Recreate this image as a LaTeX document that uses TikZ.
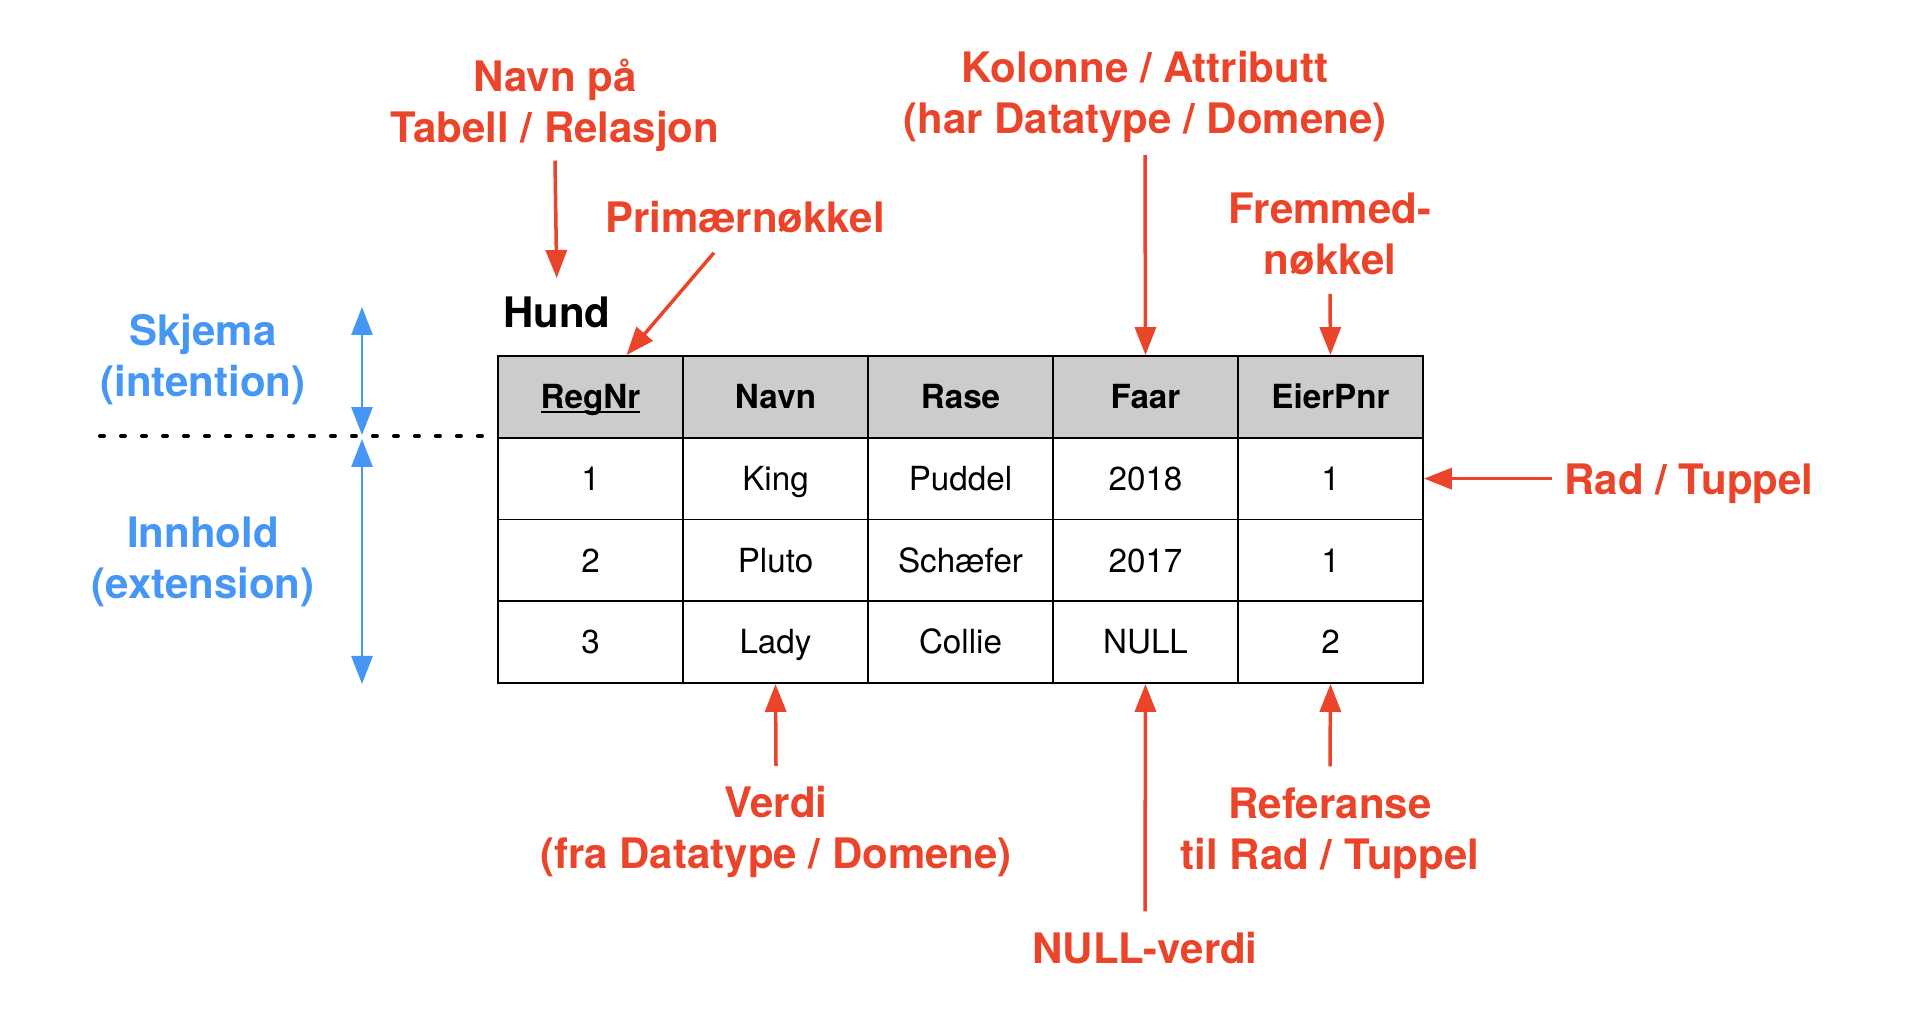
\documentclass[tikz,border=0pt]{standalone}
\usepackage{fontspec}
\setmainfont{TeX Gyre Heros}
\usetikzlibrary{arrows.meta,calc}
\definecolor{rod}{RGB}{234,68,42}
\definecolor{bla}{RGB}{70,150,246}
\definecolor{hodegraa}{RGB}{204,204,204}
\newcommand{\understrek}[1]{\setbox0\hbox{#1}\rlap{\rule[-0.14em]{\wd0}{0.06em}}\box0}

\begin{document}
\begin{tikzpicture}[x=0.02cm, y=-0.02cm, >={Triangle[length=0.56cm, width=0.42cm]},
    merk/.style={text=rod, font=\fontsize{23.9}{29}\selectfont\bfseries, align=center, inner sep=0pt},
    blamerk/.style={merk, text=bla},
    pil/.style={->, rod, line width=2pt},
    blapil/.style={<->, bla, line width=1.7pt},
    celle/.style={draw, line width=1.1pt, minimum width=3.7cm, minimum height=1.635cm, inner sep=0pt,
        text height=13.5pt, text depth=0pt, font=\fontsize{18.9}{22}\selectfont},
    hode/.style={celle, fill=hodegraa, font=\fontsize{18.9}{22}\selectfont\bfseries}]
    \useasboundingbox (0,0) rectangle (1914,1016);

\foreach \t [count=\i] in {\understrek{RegNr},Navn,Rase,Faar,EierPnr}
{
    \node[hode] (h\i) at ({498+185*(\i-0.5)},396.9) {\t};
}
\foreach \nr/\navn/\rase/\faar/\eier [count=\r] in {1/King/Puddel/2018/1, 2/Pluto/Schæfer/2017/1, 3/Lady/Collie/NULL/2}
{
    \foreach \v [count=\k] in {\nr,\navn,\rase,\faar,\eier}
        \node[celle] (c\r\k) at ({498+185*(\k-0.5)},{356+81.75*(\r+0.5)}) {\v};
}

\node[merk, text=black, anchor=base west] (hund) at (503,328) {Hund};
\node[merk] (tabell) at (555,105) {Navn på\\Tabell / Relasjon};
\node[merk, anchor=base] (prim) at (745,233) {Primærnøkkel};
\node[merk] (kolonne) at (1145,97) {Kolonne / Attributt\\(har Datatype / Domene)};
\node[merk] (fremmed) at (1330,233.5) {Fremmed-\\nøkkel};
\node[merk, anchor=base west] (rad) at (1564,495) {Rad / Tuppel};
\node[merk] (verdi) at (776,832) {Verdi\\(fra Datatype / Domene)};
\node[merk, anchor=base] (nullv) at (1145,963) {NULL-verdi};
\node[merk] (ref) at (1330,833) {Referanse\\til Rad / Tuppel};
\node[blamerk] (skjema) at (203,359.5) {Skjema\\(intention)};
\node[blamerk] (innhold) at (203,561.5) {Innhold\\(extension)};

\draw[pil, shorten >=0.38cm] ($(tabell.south)+(0,9)$)--(hund.north);
\draw[pil] ($(prim.south)+(-31,19)$)--($(h1.north)+(36,0)$);
\draw[pil] ($(kolonne.south)+(0,12)$)--(h4.north);
\draw[pil] ($(fremmed.south)+(0,19)$)--(h5.north);
\draw[pil] ($(rad.west |- c15)+(-12,0)$)--(c15.east);
\draw[pil] ($(verdi.north)+(0,-20)$)--(c32.south);
\draw[pil] ($(nullv.north)+(0,-20)$)--(c34.south);
\draw[pil] ($(ref.north)+(0,-21)$)--(c35.south);

\coordinate (skille) at (362,436);
\coordinate (sktopp) at (362,307);
\coordinate (skbunn) at (skille |- c31.south);
\draw[blapil] (sktopp)--($(skille)+(0,-1)$);
\draw[blapil] ($(skille)+(0,3)$)--(skbunn);

\coordinate (prikk1) at (100,436);
\coordinate (prikk2) at (483,436);
\draw[line width=0.08cm, dash pattern=on 0.08cm off 0.34cm, line cap=round] (prikk1)--(prikk2);

\end{tikzpicture}
\end{document}
